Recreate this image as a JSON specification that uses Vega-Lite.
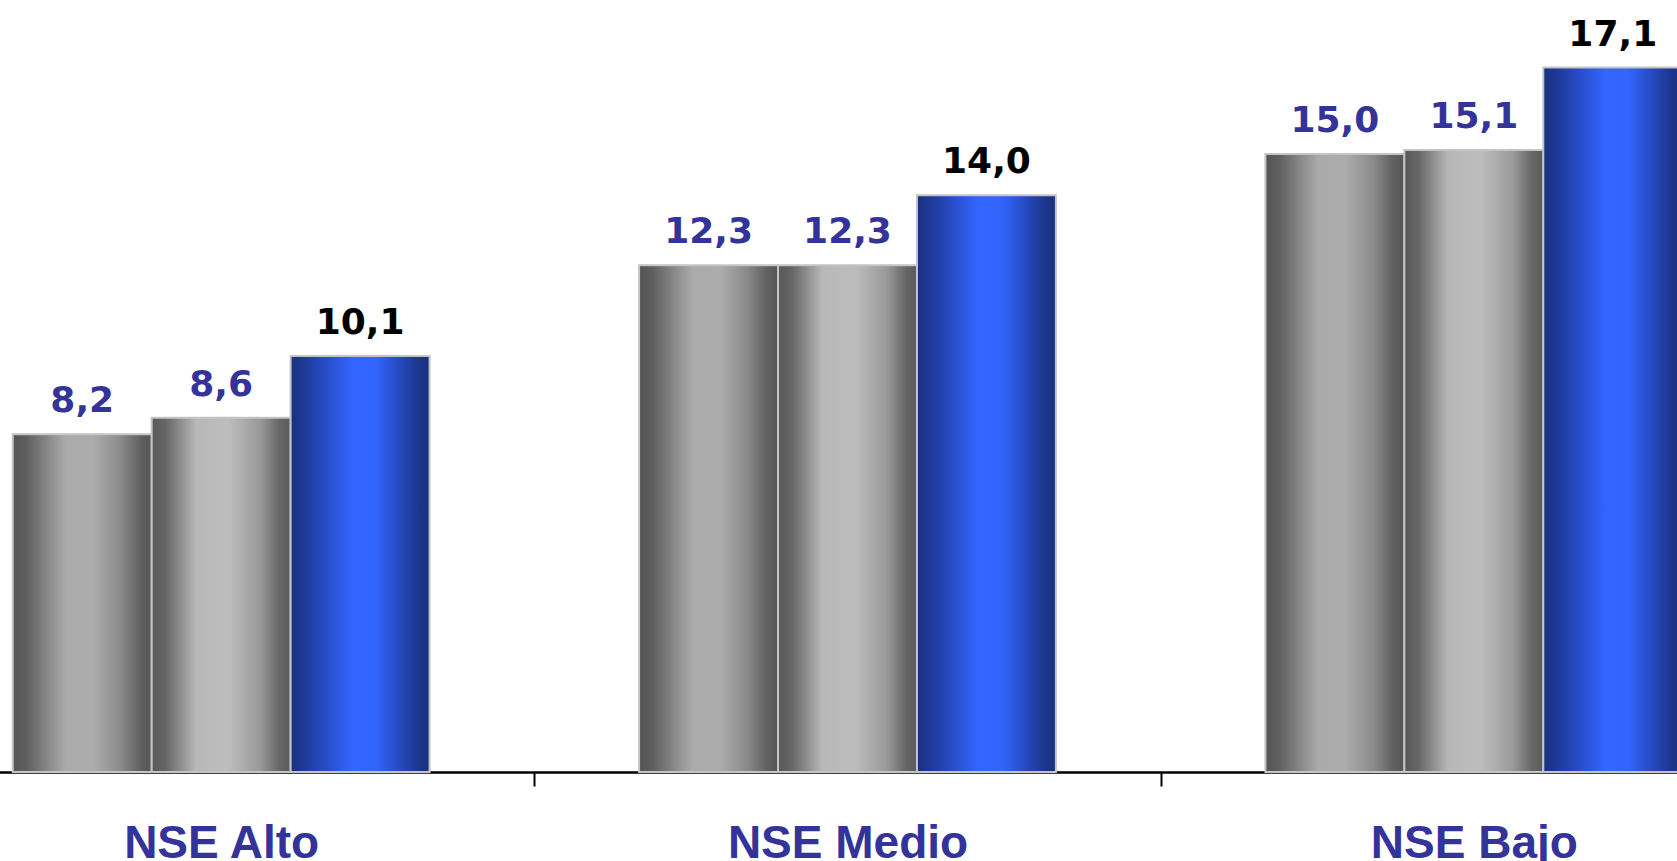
{
  "$schema": "https://vega.github.io/schema/vega-lite/v6.json",
  "width": 1677,
  "height": 772,
  "autosize": {"type": "none"},
  "padding": {"left": 0, "top": 0, "right": 0, "bottom": 89},
  "background": "white",
  "config": {
    "view": {"stroke": null},
    "locale": {"number": {"decimal": ",", "thousands": ".", "grouping": [3], "currency": ["$", ""]}}
  },
  "data": {
    "values": [
      {"nse": "NSE Alto", "serie": "A", "valor": 8.2},
      {"nse": "NSE Alto", "serie": "B", "valor": 8.6},
      {"nse": "NSE Alto", "serie": "C", "valor": 10.1},
      {"nse": "NSE Medio", "serie": "A", "valor": 12.3},
      {"nse": "NSE Medio", "serie": "B", "valor": 12.3},
      {"nse": "NSE Medio", "serie": "C", "valor": 14.0},
      {"nse": "NSE Bajo", "serie": "A", "valor": 15.0},
      {"nse": "NSE Bajo", "serie": "B", "valor": 15.1},
      {"nse": "NSE Bajo", "serie": "C", "valor": 17.1}
    ]
  },
  "encoding": {
    "x": {
      "field": "nse",
      "type": "nominal",
      "sort": ["NSE Alto", "NSE Medio", "NSE Bajo"],
      "scale": {"range": [-92, 1787], "paddingInner": 0, "paddingOuter": 0},
      "axis": {
        "title": null,
        "labelAngle": 0,
        "labelFont": "Liberation Sans",
        "labelFontWeight": "bold",
        "labelFontSize": 46,
        "labelColor": "#333399",
        "labelBaseline": "alphabetic",
        "labelPadding": 71,
        "labelOverlap": false,
        "labelBound": false,
        "labelLimit": 0,
        "tickSize": 14,
        "tickWidth": 2,
        "tickColor": "#000000",
        "tickBand": "extent",
        "domainColor": "#000000",
        "domainWidth": 2.5,
        "grid": false
      }
    },
    "xOffset": {
      "field": "serie",
      "type": "nominal",
      "scale": {"domain": ["A", "B", "C"], "paddingInner": 0, "paddingOuter": 0.754}
    },
    "y": {
      "field": "valor",
      "type": "quantitative",
      "scale": {"domain": [0, 18.74], "nice": false, "zero": true},
      "axis": null
    }
  },
  "layer": [
    {
      "transform": [{"filter": "datum.serie === 'A'"}],
      "mark": {
        "type": "bar",
        "stroke": "#c4c4c4",
        "strokeWidth": 2,
        "fill": {
          "gradient": "linear", "x1": 0, "y1": 0, "x2": 1, "y2": 0,
          "stops": [
            {"offset": 0, "color": "#555555"},
            {"offset": 0.1, "color": "#5f5f5f"},
            {"offset": 0.38, "color": "#aaaaaa"},
            {"offset": 0.58, "color": "#acacac"},
            {"offset": 0.78, "color": "#8a8a8a"},
            {"offset": 0.92, "color": "#606060"},
            {"offset": 1, "color": "#555555"}
          ]
        }
      }
    },
    {
      "transform": [{"filter": "datum.serie === 'B'"}],
      "mark": {
        "type": "bar",
        "stroke": "#c4c4c4",
        "strokeWidth": 2,
        "fill": {
          "gradient": "linear", "x1": 0, "y1": 0, "x2": 1, "y2": 0,
          "stops": [
            {"offset": 0, "color": "#585858"},
            {"offset": 0.1, "color": "#666666"},
            {"offset": 0.32, "color": "#b8b8b8"},
            {"offset": 0.55, "color": "#bdbdbd"},
            {"offset": 0.78, "color": "#9a9a9a"},
            {"offset": 0.92, "color": "#666666"},
            {"offset": 1, "color": "#5a5a5a"}
          ]
        }
      }
    },
    {
      "transform": [{"filter": "datum.serie === 'C'"}],
      "mark": {
        "type": "bar",
        "stroke": "#c4c4c4",
        "strokeWidth": 2,
        "fill": {
          "gradient": "linear", "x1": 0, "y1": 0, "x2": 1, "y2": 0,
          "stops": [
            {"offset": 0, "color": "#19307e"},
            {"offset": 0.12, "color": "#1f3c9e"},
            {"offset": 0.3, "color": "#2a52d4"},
            {"offset": 0.45, "color": "#3366ff"},
            {"offset": 0.62, "color": "#3264fa"},
            {"offset": 0.8, "color": "#2546b8"},
            {"offset": 0.93, "color": "#1c3589"},
            {"offset": 1, "color": "#19307e"}
          ]
        }
      }
    },
    {
      "mark": {
        "type": "text",
        "font": "DejaVu Sans",
        "fontWeight": "bold",
        "fontSize": 36,
        "baseline": "alphabetic",
        "align": "center",
        "dy": -22
      },
      "encoding": {
        "text": {"field": "valor", "type": "quantitative", "format": ".1f"},
        "color": {
          "field": "serie",
          "type": "nominal",
          "scale": {"domain": ["A", "B", "C"], "range": ["#333399", "#333399", "#000000"]},
          "legend": null
        }
      }
    }
  ]
}
